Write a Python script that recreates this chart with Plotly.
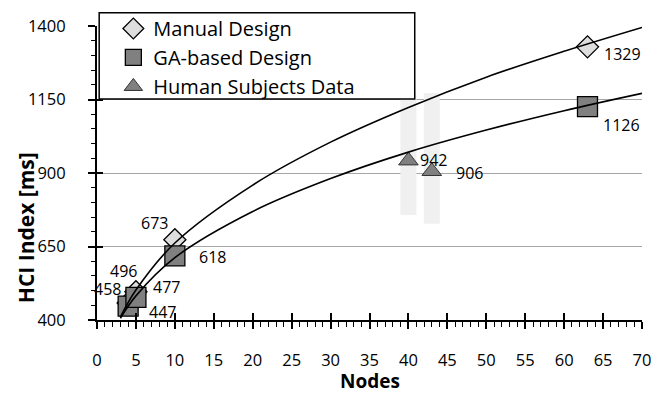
import plotly.graph_objects as go

# data
manual_x = [4, 5, 10, 63]
manual_y = [458, 496, 673, 1329]
ga_x = [4, 5, 10, 63]
ga_y = [447, 477, 618, 1126]
human_x = [40, 43]
human_y = [942, 906]
human_hi = [1172, 1172]   # top of light grey band
human_lo = [757, 727]     # bottom of light grey band

# trend curves
trend_x = [3, 5, 10, 20, 30, 40, 50, 60, 70]
manual_trend = [410, 502, 662, 859, 1005, 1123, 1226, 1314, 1395]
ga_trend = [406, 482, 612, 769, 881, 971, 1046, 1112, 1171]

# label offsets (px) for each point label
manual_off = [(-21, 14), (-12, 21), (-20, 17), (35, -7)]
ga_off = [(34, -6), (31, 10), (38, -1), (34, -18)]
human_off = [(25, 1), (38, -2)]

FONT = "Open Sans"

fig = go.Figure()

# light grey bands behind the human subject points
fig.add_trace(go.Scatter(
    x=human_x, y=human_y, mode="markers",
    marker=dict(size=1, color="rgba(0,0,0,0)"),
    error_y=dict(type="data", symmetric=False,
                 array=[h - y for h, y in zip(human_hi, human_y)],
                 arrayminus=[y - l for l, y in zip(human_lo, human_y)],
                 thickness=16, width=0, color="#f0f0f0"),
    showlegend=False, hoverinfo="skip"))

fig.add_trace(go.Scatter(
    x=manual_x, y=manual_y, mode="markers", name="Manual Design",
    marker=dict(symbol="diamond", size=17, color="#dedede",
                line=dict(color="black", width=1.3))))
fig.add_trace(go.Scatter(
    x=ga_x, y=ga_y, mode="markers", name="GA-based Design",
    marker=dict(symbol="square", size=20, color="#808080",
                line=dict(color="black", width=1.3))))
fig.add_trace(go.Scatter(
    x=human_x, y=human_y, mode="markers", name="Human Subjects Data",
    marker=dict(symbol="triangle-up", size=17, color="#808080",
                line=dict(color="#333333", width=1))))

# trend lines
for ty in [manual_trend, ga_trend]:
    fig.add_trace(go.Scatter(
        x=trend_x, y=ty, mode="lines", line=dict(color="black", width=1.6, shape="spline"),
        showlegend=False, hoverinfo="skip"))

# invisible trace so the overlay axes (cross ticks) get drawn
fig.add_trace(go.Scatter(x=[35], y=[900], mode="none", xaxis="x2", yaxis="y2",
                         showlegend=False, hoverinfo="skip"))

# point labels
for xs, ys, offs in [(manual_x, manual_y, manual_off), (ga_x, ga_y, ga_off),
                     (human_x, human_y, human_off)]:
    for xv, yv, (dx, dy) in zip(xs, ys, offs):
        fig.add_annotation(x=xv, y=yv, text=str(yv), showarrow=False,
                           xshift=dx, yshift=dy,
                           font=dict(family=FONT, size=16, color="black"))

# axis titles
fig.add_annotation(xref="paper", yref="paper", x=-0.13, y=0.313,
                   xanchor="center", yanchor="middle",
                   text="<b>HCI Index [ms]</b>", textangle=-90, showarrow=False,
                   font=dict(family=FONT, size=21, color="black"))
fig.add_annotation(xref="paper", yref="paper", x=0.5, y=-0.206,
                   xanchor="center", yanchor="middle",
                   text="<b>Nodes</b>", showarrow=False,
                   font=dict(family=FONT, size=19, color="black"))

# legend box
fig.add_shape(type="rect", xref="paper", yref="paper",
              x0=0.004, x1=0.583, y0=0.752, y1=1.045,
              line=dict(color="black", width=1.5), fillcolor="white", layer="above")

fig.update_layout(
    width=651, height=393,
    margin=dict(l=97, r=9, t=26, b=73, autoexpand=False),
    paper_bgcolor="white", plot_bgcolor="white",
    font=dict(family=FONT, size=16, color="black"),
    showlegend=True,
    legend=dict(x=0.03, y=1.058, xanchor="left", yanchor="top",
                bgcolor="rgba(0,0,0,0)", borderwidth=0,
                font=dict(family=FONT, size=20, color="black"),
                itemwidth=30, tracegroupgap=0),
    xaxis=dict(range=[0, 70], dtick=5, tick0=0, showgrid=False, zeroline=False,
               showline=True, linecolor="black", linewidth=2, automargin=False,
               ticks="outside", ticklen=7, tickwidth=1.5, tickcolor="black",
               ticklabelstandoff=17, ticklabeloverflow="allow",
               tickfont=dict(size=16.5),
               minor=dict(dtick=1, ticks="outside", ticklen=5, tickcolor="black", tickwidth=1),
               fixedrange=True),
    yaxis=dict(range=[400, 1400], dtick=250, tick0=400, showgrid=True,
               gridcolor="#a6a6a6", gridwidth=1.3, zeroline=False,
               showline=True, linecolor="black", linewidth=2, automargin=False,
               ticks="outside", ticklen=7, tickwidth=1.5, tickcolor="black",
               ticklabelstandoff=19, ticklabeloverflow="allow",
               tickfont=dict(size=16.5),
               minor=dict(dtick=50, ticks="outside", ticklen=4, tickcolor="black", tickwidth=1),
               fixedrange=True),
    xaxis2=dict(range=[0, 70], dtick=5, overlaying="x", anchor="y2", showgrid=False,
                zeroline=False, showline=False, ticks="inside", ticklen=7, tickwidth=1.5,
                tickcolor="black", showticklabels=False, side="bottom", fixedrange=True,
                automargin=False),
    yaxis2=dict(range=[400, 1400], dtick=250, tick0=400, overlaying="y", anchor="x2",
                showgrid=False, zeroline=False, showline=False, ticks="inside", ticklen=6,
                tickwidth=1.5, tickcolor="black", showticklabels=False, side="left",
                fixedrange=True, automargin=False),
)

# page body has a default 8px margin; drop it so the chart fills the window
fig.write_html("out.html", config={"displayModeBar": False},
               post_script="document.body.style.margin='0px';")
